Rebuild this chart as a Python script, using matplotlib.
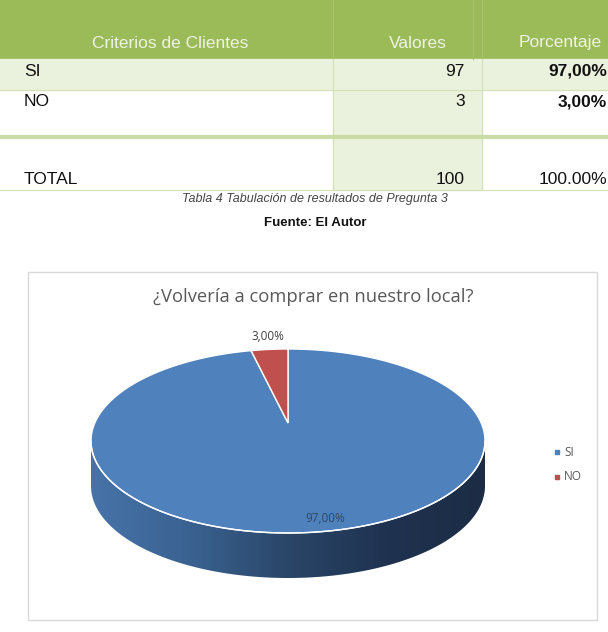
import numpy as np
import matplotlib.pyplot as plt
from matplotlib.patches import Rectangle, Polygon
from matplotlib.colors import LinearSegmentedColormap

# datos de la tabla y del grafico
criterios = ['SI', 'NO']
valores = [97, 3]
total = 100
total_pct = '100.00%'
encabezados = ['Criterios de Clientes', 'Valores', 'Porcentaje']
titulo = '¿Volvería a comprar en nuestro local?'
pie_tabla = 'Tabla 4 Tabulación de resultados de Pregunta 3'
fuente = 'Fuente: El Autor'

colores = ['#4F81BD', '#C0504D']


def pct(v):
    return f'{v / total * 100:.2f}'.replace('.', ',') + '%'


fig = plt.figure(figsize=(6.08, 6.32), dpi=100)
ax = fig.add_axes([0, 0, 1, 1])

# ---- tabla ----
verde = '#9BBB59'
verde_claro = '#EAF1DD'
linea = '#D3E0B8'
ftab = 'Liberation Sans'

ax.add_patch(Rectangle((0, 0), 608, 59, color=verde, zorder=1))
for x in [333, 473, 482]:
    ax.plot([x, x], [0, 59], color='#A6C16A', lw=0.8, zorder=2)
ax.text(170, 43, encabezados[0], ha='center', va='center', fontsize=12.5,
        color='#EEF3E4', family=ftab)
ax.text(418, 43, encabezados[1], ha='center', va='center', fontsize=12.5,
        color='#EEF3E4', family=ftab)
ax.text(519, 43, encabezados[2], ha='left', va='center', fontsize=12.5,
        color='#EEF3E4', family=ftab)

# filas
ax.add_patch(Rectangle((0, 59), 608, 31, color=verde_claro, zorder=1))
ax.add_patch(Rectangle((333, 90), 149, 45, color=verde_claro, zorder=1))
ax.add_patch(Rectangle((333, 138), 149, 52, color=verde_claro, zorder=1))
for x in [333, 482]:
    ax.plot([x, x], [59, 190], color=linea, lw=0.8, zorder=2)
ax.plot([0, 608], [90, 90], color=linea, lw=0.8, zorder=2)
ax.plot([0, 608], [136.5, 136.5], color='#CADBA6', lw=3, zorder=2)
ax.plot([0, 608], [190, 190], color=linea, lw=0.8, zorder=2)

texto_y = [71, 102]
for i, (c, v) in enumerate(zip(criterios, valores)):
    ax.text(24, texto_y[i], c, ha='left', va='center', fontsize=12.5,
            color='#111111', family=ftab)
    ax.text(465, texto_y[i], str(v), ha='right', va='center', fontsize=12.5,
            color='#111111', family=ftab)
    ax.text(607, texto_y[i], pct(v), ha='right', va='center', fontsize=12.5,
            color='#111111', family=ftab, fontweight='bold')
ax.text(24, 180, 'TOTAL', ha='left', va='center', fontsize=12.5,
        color='#111111', family=ftab)
ax.text(465, 180, str(total), ha='right', va='center', fontsize=12.5,
        color='#111111', family=ftab)
ax.text(607, 180, total_pct, ha='right', va='center', fontsize=12.5,
        color='#111111', family=ftab)

ax.text(315, 199, pie_tabla, ha='center', va='center', fontsize=9,
        color='#444444', family=ftab, style='italic')
ax.text(315, 223, fuente, ha='center', va='center', fontsize=9.5,
        color='#111111', family=ftab, fontweight='bold')

# ---- grafico ----
ax.add_patch(Rectangle((28, 272), 569, 348, fill=False, edgecolor='#D9D9D9',
                       lw=1, zorder=1))
ax.text(313, 297, titulo, ha='center', va='center', fontsize=13.2,
        color='#595959', family='Open Sans')

cx, cy, rx, ry, prof = 288, 441, 197, 92, 45
punta = (288, 423)

# lado del pastel (mitad frontal) con degradado
t = np.linspace(0, np.pi, 300)
bx = cx + rx * np.cos(t)
by = cy + ry * np.sin(t)
lado = np.concatenate([np.c_[bx, by], np.c_[bx[::-1], by[::-1] + prof]])
poly = Polygon(lado, closed=True, facecolor='none', edgecolor='none', zorder=3)
ax.add_patch(poly)
grad = np.linspace(0, 1, 256).reshape(1, -1)
cmap = LinearSegmentedColormap.from_list(
    'lado', ['#4773A9', '#3A6291', '#2A4668', '#1F3250', '#1C2C44'])
im = ax.imshow(grad, extent=(cx - rx, cx + rx, cy + ry + prof, cy),
               cmap=cmap, aspect='auto', zorder=3)
im.set_clip_path(poly)

# cara superior: porciones a partir de los valores
ang0 = 90.0
for v, col in zip(valores, colores):
    barrido = 360.0 * v / total
    a = np.radians(np.linspace(ang0, ang0 - barrido, 400))
    px = cx + rx * np.cos(a)
    py = cy - ry * np.sin(a)
    pts = np.vstack([[punta], np.c_[px, py]])
    ax.add_patch(Polygon(pts, closed=True, facecolor=col, edgecolor='white',
                         lw=1, zorder=4, joinstyle='miter'))
    ang0 -= barrido

ax.plot(bx, by, color='white', lw=1, zorder=5)

# etiquetas de datos
ax.text(268, 337, pct(valores[1]), ha='center', va='center', fontsize=8.5,
        color='#404040', family='Open Sans', zorder=6)
ax.text(325, 518, pct(valores[0]), ha='center', va='center', fontsize=8.5,
        color='#34465C', family='Open Sans', zorder=6)

# leyenda
ley_y = [452, 477]
for i, (c, col) in enumerate(zip(criterios, colores)):
    ax.scatter([557], [ley_y[i]], marker='s', s=10, color=col, zorder=5)
    ax.text(564, ley_y[i], c, ha='left', va='center', fontsize=8.5,
            color='#595959', family='Open Sans')

ax.set_xlim(0, 608)
ax.set_ylim(632, 0)
ax.axis('off')

fig.savefig('out.png', dpi=100, facecolor='white')
